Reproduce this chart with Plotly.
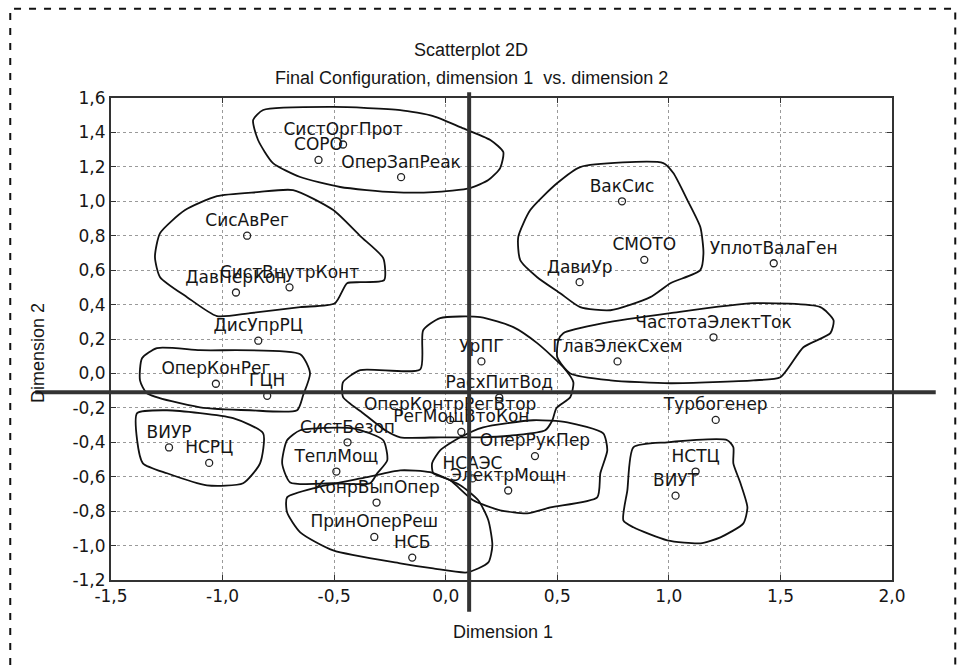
import plotly.graph_objects as go

# ---- data ----
labels = ["СистОргПрот", "СОРО", "ОперЗапРеак", "СисАвРег", "ДавПерКон", "СистВнутрКонт",
          "ДисУпрРЦ", "ОперКонРег", "ГЦН", "ВИУР", "НСРЦ", "СистБезоп", "ТеплМощ",
          "КонрВыпОпер", "ПринОперРеш", "НСБ", "УрПГ", "РасхПитВод", "ОперКонтрРегВтор",
          "РегМощВтоКон", "ОперРукПер", "НСАЭС", "ЭлектрМощн", "ВакСис", "СМОТО", "ДавиУр",
          "УплотВалаГен", "ЧастотаЭлектТок", "ГлавЭлекСхем", "Турбогенер", "НСТЦ", "ВИУТ"]
dim1 = [-0.46, -0.57, -0.20, -0.89, -0.94, -0.70, -0.84, -1.03, -0.80, -1.24, -1.06, -0.44,
        -0.49, -0.31, -0.32, -0.15, 0.16, 0.24, 0.02, 0.07, 0.40, 0.12, 0.28, 0.79, 0.89,
        0.60, 1.47, 1.20, 0.77, 1.21, 1.12, 1.03]
dim2 = [1.33, 1.24, 1.14, 0.80, 0.47, 0.50, 0.19, -0.06, -0.13, -0.43, -0.52, -0.40,
        -0.57, -0.75, -0.95, -1.07, 0.07, -0.14, -0.27, -0.34, -0.48, -0.61, -0.68, 1.00,
        0.66, 0.53, 0.64, 0.21, 0.07, -0.27, -0.57, -0.71]

x_ticks = [-1.5, -1.0, -0.5, 0.0, 0.5, 1.0, 1.5, 2.0]
x_tick_text = ["-1,5", "-1,0", "-0,5", "0,0", "0,5", "1,0", "1,5", "2,0"]
y_ticks = [1.6, 1.4, 1.2, 1.0, 0.8, 0.6, 0.4, 0.2, 0.0, -0.2, -0.4, -0.6, -0.8, -1.0, -1.2]
y_tick_text = ["1,6", "1,4", "1,2", "1,0", "0,8", "0,6", "0,4", "0,2", "0,0", "-0,2",
               "-0,4", "-0,6", "-0,8", "-1,0", "-1,2"]

# reference (cross) lines of the picture
cross_x = 0.105
cross_y = -0.11

# hand-drawn cluster outlines (data units)
out1_x = [-0.818, -0.504, -0.204, -0.056, 0.065, 0.200, 0.258, 0.244, 0.191, 0.110, -0.056, -0.235, -0.473, -0.652, -0.774, -0.841, -0.863, -0.818]
out1_y = [1.530, 1.548, 1.530, 1.495, 1.431, 1.356, 1.286, 1.193, 1.123, 1.077, 1.053, 1.053, 1.083, 1.141, 1.222, 1.356, 1.472, 1.530]
out2_x = [-1.280, -1.168, -1.025, -0.845, -0.684, -0.504, -0.383, -0.280, -0.276, -0.383, -0.442, -0.496, -0.652, -0.877, -1.025, -1.159, -1.280, -1.303, -1.280]
out2_y = [0.815, 0.949, 1.030, 1.053, 1.065, 0.949, 0.798, 0.670, 0.542, 0.530, 0.524, 0.408, 0.385, 0.350, 0.333, 0.443, 0.559, 0.676, 0.815]
out3_x = [-1.361, -1.294, -1.101, -0.652, -0.608, -0.639, -0.666, -0.877, -1.101, -1.339, -1.370, -1.361]
out3_y = [0.088, 0.147, 0.135, 0.112, 0.001, -0.127, -0.214, -0.214, -0.197, -0.115, -0.040, 0.088]
out4_x = [-1.383, -1.249, -0.953, -0.818, -0.832, -0.908, -1.070, -1.249, -1.357, -1.383, -1.383]
out4_y = [-0.231, -0.214, -0.260, -0.348, -0.522, -0.638, -0.650, -0.580, -0.522, -0.388, -0.231]
out5_x = [-0.652, -0.415, -0.280, -0.262, -0.307, -0.339, -0.504, -0.697, -0.733, -0.711, -0.652]
out5_y = [-0.330, -0.319, -0.388, -0.505, -0.580, -0.638, -0.638, -0.633, -0.522, -0.388, -0.330]
out6_x = [-0.711, -0.576, -0.352, -0.204, -0.070, 0.065, 0.146, 0.191, 0.209, 0.191, 0.096, -0.056, -0.204, -0.504, -0.652, -0.711, -0.711]
out6_y = [-0.720, -0.662, -0.603, -0.563, -0.574, -0.650, -0.737, -0.853, -0.999, -1.098, -1.156, -1.133, -1.103, -1.028, -0.923, -0.807, -0.720]
out7_x = [0.065, 0.168, 0.392, 0.545, 0.706, 0.724, 0.693, 0.679, 0.469, 0.365, 0.244, 0.123, 0.020, -0.056, -0.061, -0.025, 0.065]
out7_y = [-0.371, -0.313, -0.272, -0.284, -0.348, -0.447, -0.580, -0.720, -0.778, -0.813, -0.795, -0.737, -0.621, -0.580, -0.522, -0.447, -0.371]
out8_x = [-0.460, -0.383, -0.114, -0.101, -0.025, 0.155, 0.303, 0.410, 0.527, 0.572, 0.558, 0.496, 0.478, 0.446, 0.312, 0.155, -0.025, -0.204, -0.271, -0.370, -0.460, -0.460]
out8_y = [-0.051, 0.019, 0.024, 0.251, 0.321, 0.327, 0.269, 0.176, 0.036, -0.051, -0.138, -0.202, -0.272, -0.330, -0.359, -0.371, -0.371, -0.371, -0.330, -0.231, -0.138, -0.051]
out9_x = [0.603, 0.975, 1.020, 1.083, 1.141, 1.155, 1.141, 1.007, 0.917, 0.738, 0.603, 0.513, 0.410, 0.334, 0.325, 0.379, 0.500, 0.603]
out9_y = [1.199, 1.222, 1.164, 1.007, 0.850, 0.699, 0.600, 0.524, 0.443, 0.367, 0.385, 0.466, 0.559, 0.658, 0.792, 0.949, 1.106, 1.199]
out10_x = [0.527, 0.706, 1.007, 1.379, 1.679, 1.738, 1.724, 1.603, 1.500, 1.379, 1.007, 0.738, 0.558, 0.500, 0.505, 0.527]
out10_y = [0.234, 0.292, 0.350, 0.408, 0.385, 0.309, 0.234, 0.152, -0.022, -0.040, -0.057, -0.040, 0.000, 0.094, 0.193, 0.234]
out11_x = [0.841, 0.993, 1.262, 1.289, 1.289, 1.321, 1.352, 1.334, 1.231, 1.141, 0.993, 0.841, 0.796, 0.814, 0.841]
out11_y = [-0.429, -0.400, -0.388, -0.429, -0.522, -0.638, -0.778, -0.871, -0.952, -0.987, -0.970, -0.894, -0.853, -0.679, -0.429]

outlines = [(out1_x, out1_y), (out2_x, out2_y), (out3_x, out3_y), (out4_x, out4_y),
            (out5_x, out5_y), (out6_x, out6_y), (out7_x, out7_y), (out8_x, out8_y),
            (out9_x, out9_y), (out10_x, out10_y), (out11_x, out11_y)]

TXT = "#161616"
FONT = "DejaVu Sans"
TFONT = "Liberation Sans"

fig = go.Figure()

for ox, oy in outlines:
    fig.add_trace(go.Scatter(x=ox, y=oy, mode="lines",
                             line=dict(color="#111111", width=1.8, shape="spline", smoothing=0.6),
                             hoverinfo="skip", showlegend=False))

fig.add_trace(go.Scatter(
    x=dim1, y=dim2, mode="markers+text", text=labels, textposition="top center",
    textfont=dict(family=FONT, size=17, color=TXT),
    marker=dict(symbol="circle-open", size=7, color="#222222", line=dict(width=1.3)),
    showlegend=False))

axis_common = dict(showgrid=True, gridcolor="#9a9a9a", griddash="dot", gridwidth=1,
                   zeroline=False, showline=True, linecolor="#333333", linewidth=2,
                   mirror="ticks", ticks="inside", ticklen=5, tickcolor="#333333",
                   tickfont=dict(family=FONT, size=17, color=TXT))

fig.update_xaxes(range=[-1.5, 2.0], tickvals=x_ticks, ticktext=x_tick_text, **axis_common)
fig.update_yaxes(range=[-1.2, 1.6], tickvals=y_ticks, ticktext=y_tick_text, **axis_common)

# cross lines
fig.add_shape(type="line", xref="x", yref="paper", x0=cross_x, x1=cross_x, y0=-0.066, y1=1.012,
              line=dict(color="#333333", width=4))
fig.add_shape(type="line", xref="paper", yref="y", x0=-0.097, x1=1.056, y0=cross_y, y1=cross_y,
              line=dict(color="#333333", width=4))

# dashed page border
fig.add_shape(type="rect", xref="paper", yref="paper", x0=-0.129, x1=1.081, y0=-0.3, y1=1.185,
              line=dict(color="#111111", width=2, dash="7px,8px"))

ann = [
    dict(text="Scatterplot 2D", x=0.461, y=1.0996, size=18),
    dict(text="Final Configuration, dimension 1  vs. dimension 2", x=0.462, y=1.0415, size=18),
    dict(text="Dimension 1", x=0.502, y=-0.108, size=18),
]
for a in ann:
    fig.add_annotation(text=a["text"], x=a["x"], y=a["y"], xref="paper", yref="paper",
                       showarrow=False, xanchor="center", yanchor="middle",
                       font=dict(family=TFONT, size=a["size"], color=TXT))
fig.add_annotation(text="Dimension 2", x=-0.0935, y=0.471, xref="paper", yref="paper",
                   showarrow=False, textangle=-90, xanchor="center", yanchor="middle",
                   font=dict(family=TFONT, size=18, color=TXT))

fig.update_layout(width=958, height=670, margin=dict(l=111, r=66, t=98, b=90),
                  paper_bgcolor="white", plot_bgcolor="white", showlegend=False)

fig.write_html("out.html")
